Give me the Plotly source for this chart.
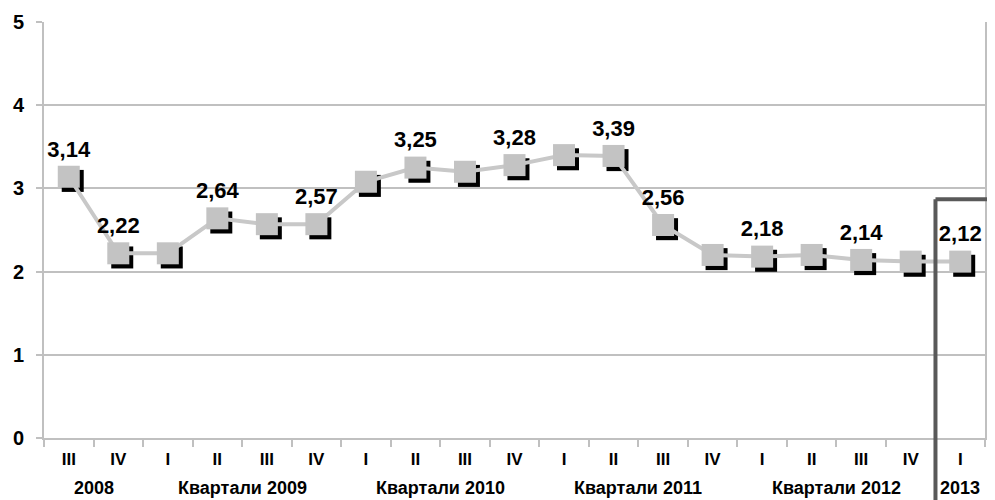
import plotly.graph_objects as go

quarters = ["III", "IV", "I", "II", "III", "IV", "I", "II", "III", "IV",
            "I", "II", "III", "IV", "I", "II", "III", "IV", "I"]
values = [3.14, 2.22, 2.22, 2.64, 2.57, 2.57, 3.08, 3.25, 3.20, 3.28,
          3.40, 3.39, 2.56, 2.20, 2.18, 2.20, 2.14, 2.12, 2.12]
labelled = [1, 1, 0, 1, 0, 1, 0, 1, 0, 1, 0, 1, 1, 0, 1, 0, 1, 0, 1]
group_labels = ["2008", "Квартали 2009", "Квартали 2010", "Квартали 2011",
                "Квартали 2012", "2013"]
group_centers = [0.5, 3.5, 7.5, 11.5, 15.5, 18]
y_ticks = [0, 1, 2, 3, 4, 5]

n = len(values)
xs = list(range(n))
texts = [f"{v:.2f}".replace(".", ",") if m else "" for v, m in zip(values, labelled)]

FONT = "Liberation Sans, Arial, sans-serif"
GRID = "#c0c0c0"
xr = [-0.5, n - 0.5]
yr = [0, 5]
# shadow offset in axis units (approx 4px)
dx = 0.08
dy = 0.05

fig = go.Figure()
# shadow squares
fig.add_trace(go.Scatter(
    x=xs, y=values, mode="markers", xaxis="x2", yaxis="y2",
    marker=dict(symbol="square", size=22, color="black", line=dict(width=0)),
    hoverinfo="skip", showlegend=False, cliponaxis=False))
# main series
fig.add_trace(go.Scatter(
    x=xs, y=values, mode="lines+markers+text", xaxis="x3", yaxis="y3",
    line=dict(color="#c8c8c8", width=4),
    marker=dict(symbol="square", size=22, color="#c3c3c3", line=dict(width=0)),
    text=texts, textposition="top center",
    textfont=dict(family=FONT, size=22, color="black", weight="bold"),
    showlegend=False, cliponaxis=False))

fig.update_layout(
    width=987, height=492,
    margin=dict(l=36, r=10, t=14, b=62),
    paper_bgcolor="white", plot_bgcolor="white",
    font=dict(family=FONT, color="black"),
    xaxis=dict(range=xr, tickmode="array", tickvals=xs, ticktext=quarters,
               ticks="", showgrid=False, zeroline=False, automargin=False,
               showline=True, linecolor=GRID, linewidth=2,
               tickfont=dict(family=FONT, size=17, color="black", weight="bold"),
               ticklabelstandoff=5,
               minor=dict(tickmode="array", tickvals=[k - 0.5 for k in range(n + 1)],
                          ticks="outside", ticklen=7, tickcolor=GRID, tickwidth=2,
                          showgrid=False)),
    yaxis=dict(range=yr, tickmode="array", tickvals=y_ticks, automargin=False,
               showgrid=True, gridcolor=GRID, gridwidth=2, zeroline=False,
               showline=True, linecolor=GRID, linewidth=2, mirror=True,
               ticks="outside", ticklen=6, tickcolor=GRID, tickwidth=2,
               ticklabelstandoff=8,
               tickfont=dict(family=FONT, size=20, color="black", weight="bold")),
    xaxis2=dict(overlaying="x", range=[xr[0] - dx, xr[1] - dx], visible=False),
    yaxis2=dict(overlaying="y", range=[yr[0] + dy, yr[1] + dy], visible=False),
    xaxis3=dict(overlaying="x", range=xr, visible=False),
    yaxis3=dict(overlaying="y", range=yr, visible=False),
)

for lab, cx in zip(group_labels, group_centers):
    fig.add_annotation(x=cx, xref="x", y=-0.12, yref="paper", text=lab,
                       showarrow=False, yanchor="middle",
                       font=dict(family=FONT, size=18, color="black", weight="bold"))

# highlight frame around the last quarter
frame_y = 2.87
fig.add_shape(type="line", xref="x", yref="paper", x0=n - 1.5, x1=n - 1.5,
              y0=-0.2, y1=frame_y / yr[1], line=dict(color="#595959", width=4))
fig.add_shape(type="line", xref="paper", yref="y",
              x0=(n - 1.5 - xr[0]) / (xr[1] - xr[0]), x1=1.05,
              y0=frame_y, y1=frame_y, line=dict(color="#595959", width=4))

fig.write_html("out.html")
